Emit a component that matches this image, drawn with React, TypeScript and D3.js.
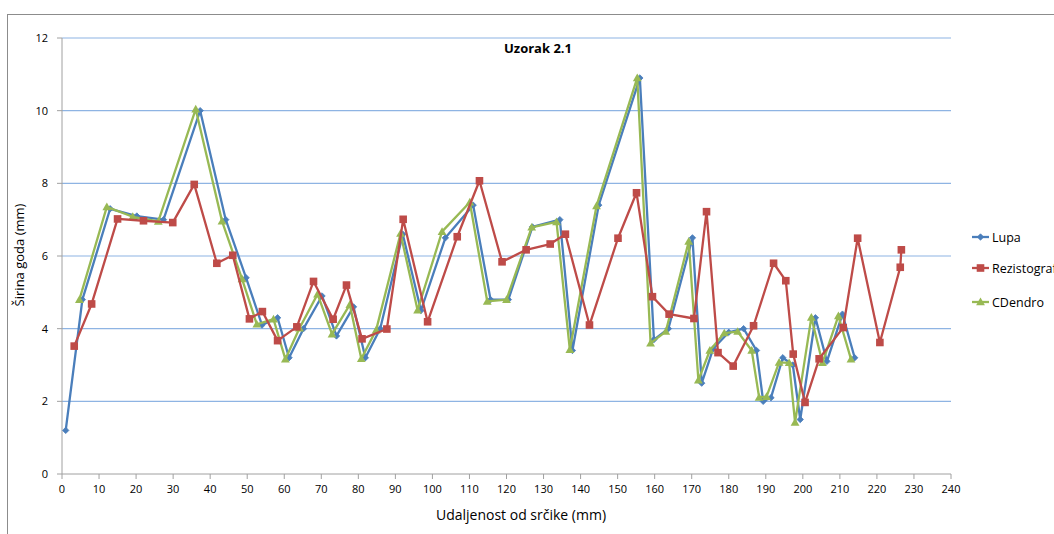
import React from "react";
import * as d3 from "d3";

const lupaX = [1, 5.5, 13, 20.2, 27.4, 37.3, 44.2, 49.7, 54.0, 58.2, 61.3, 65.2, 70.2, 74.1, 78.7, 81.9, 85.9, 92.0, 96.9, 103.5, 111.0, 115.7, 120.5, 127.0, 134.4, 137.8, 144.9, 156.0, 159.8, 163.7, 170.2, 172.7, 175.8, 180.0, 184.0, 187.5, 189.3, 191.4, 194.6, 197.3, 199.3, 203.4, 206.5, 210.7, 214.0];
const lupaY = [1.2, 4.8, 7.3, 7.1, 7.0, 10.0, 7.0, 5.4, 4.1, 4.3, 3.2, 4.0, 4.9, 3.8, 4.6, 3.2, 4.0, 6.6, 4.5, 6.5, 7.4, 4.8, 4.8, 6.8, 7.0, 3.4, 7.4, 10.9, 3.7, 4.0, 6.5, 2.5, 3.45, 3.9, 4.0, 3.4, 2.0, 2.1, 3.2, 3.0, 1.5, 4.3, 3.1, 4.4, 3.2];

const rezX = [3.3, 8.0, 15.0, 22.0, 29.9, 35.7, 41.8, 46.1, 50.6, 54.1, 58.2, 63.4, 67.9, 73.2, 76.8, 81.0, 87.7, 92.1, 98.7, 106.7, 112.7, 118.8, 125.3, 131.8, 135.9, 142.4, 150.1, 155.1, 159.4, 163.9, 170.6, 174.0, 177.1, 181.2, 186.7, 192.1, 195.4, 197.4, 200.6, 204.4, 210.9, 214.8, 220.8, 226.3, 226.6];
const rezY = [3.52, 4.68, 7.02, 6.97, 6.92, 7.97, 5.8, 6.02, 4.27, 4.47, 3.67, 4.05, 5.3, 4.26, 5.2, 3.72, 3.99, 7.01, 4.19, 6.53, 8.07, 5.84, 6.17, 6.33, 6.6, 4.1, 6.49, 7.74, 4.88, 4.4, 4.28, 7.22, 3.34, 2.97, 4.08, 5.8, 5.32, 3.3, 1.97, 3.17, 4.03, 6.49, 3.62, 5.69, 6.17];

const cdX = [4.7, 12.1, 19.1, 26.0, 36.1, 43.2, 48.6, 52.6, 57.1, 60.3, 64.1, 69.0, 72.9, 77.7, 80.8, 84.8, 91.4, 96.0, 102.6, 110.1, 114.8, 120.0, 126.8, 133.5, 137.1, 144.3, 155.3, 158.9, 163.0, 169.2, 171.8, 174.9, 178.8, 182.4, 186.2, 188.2, 190.2, 193.6, 196.3, 197.9, 202.3, 205.3, 209.6, 213.0];
const cdY = [4.8, 7.35, 7.08, 6.95, 10.04, 6.96, 5.37, 4.12, 4.26, 3.16, 4.01, 4.95, 3.85, 4.66, 3.17, 3.96, 6.62, 4.51, 6.67, 7.48, 4.75, 4.8, 6.79, 6.94, 3.42, 7.38, 10.9, 3.6, 3.92, 6.4, 2.58, 3.4, 3.88, 3.92, 3.4, 2.11, 2.13, 3.07, 3.06, 1.42, 4.31, 3.06, 4.35, 3.16];

const xTicks = d3.range(0, 241, 10);
const yTicks = [0, 2, 4, 6, 8, 10, 12];

const seriesNames = ["Lupa", "Rezistograf", "CDendro"];
const seriesColors = ["#4A7EBB", "#BE4B48", "#98B954"];

const FONT = "'Open Sans', 'Liberation Sans', sans-serif";

function Marker({ kind, x, y, color }: { kind: number; x: number; y: number; color: string }) {
  if (kind === 0) {
    const s = 3.2;
    return <path d={`M${x},${y - s}L${x + s},${y}L${x},${y + s}L${x - s},${y}Z`} fill={color} stroke={color} strokeWidth={0.8} />;
  }
  if (kind === 1) {
    return <rect x={x - 3.8} y={y - 3.8} width={7.6} height={7.6} fill={color} />;
  }
  const s = 4.4;
  return <path d={`M${x},${y - s}L${x + s},${y + s * 0.75}L${x - s},${y + s * 0.75}Z`} fill={color} />;
}

export default function App() {
  const x = d3.scaleLinear().domain([0, 240]).range([62, 951]);
  const y = d3.scaleLinear().domain([0, 12]).range([474, 38]);
  const data = [
    lupaX.map((v, i) => [v, lupaY[i]]),
    rezX.map((v, i) => [v, rezY[i]]),
    cdX.map((v, i) => [v, cdY[i]]),
  ];
  const line = d3.line<number[]>().x((d) => x(d[0])).y((d) => y(d[1]));
  const order = [0, 2, 1];
  const legendY = [237, 268, 302];

  return (
    <svg width={1054} height={534} style={{ position: "absolute", left: 0, top: 0, background: "#fff" }} fontFamily={FONT}>
      <rect x={7.5} y={14.5} width={1100} height={600} fill="#fff" stroke="#8c8c8c" strokeWidth={1} />
      {yTicks.filter((t) => t > 0).map((t) => (
        <line key={t} x1={62} x2={951} y1={y(t)} y2={y(t)} stroke="#8EB4E3" strokeWidth={1.2} />
      ))}
      <line x1={62} x2={62} y1={38} y2={474} stroke="#a0a0a0" strokeWidth={1} />
      <line x1={62} x2={951} y1={474} y2={474} stroke="#a0a0a0" strokeWidth={1} />
      {yTicks.map((t) => (
        <g key={t}>
          <line x1={57} x2={62} y1={y(t)} y2={y(t)} stroke="#a0a0a0" />
          <text x={48} y={y(t) + 4} fontSize={11} textAnchor="end" fill="#000">{t}</text>
        </g>
      ))}
      {xTicks.map((t) => (
        <g key={t}>
          <line x1={x(t)} x2={x(t)} y1={474} y2={479} stroke="#a0a0a0" />
          <text x={x(t)} y={493} fontSize={11} textAnchor="middle" fill="#000">{t}</text>
        </g>
      ))}
      <text x={521} y={520} fontSize={14} textAnchor="middle">Udaljenost od srčike (mm)</text>
      <text transform={`translate(24,255) rotate(-90)`} fontSize={13} textAnchor="middle">Širina goda (mm)</text>
      <text x={538} y={53} fontSize={13} fontWeight="bold" textAnchor="middle">Uzorak 2.1</text>
      {order.map((k) => (
        <g key={k}>
          <path d={line(data[k]) || ""} fill="none" stroke={seriesColors[k]} strokeWidth={2.3} strokeLinejoin="round" />
          {data[k].map((d, i) => (
            <Marker key={i} kind={k} x={x(d[0])} y={y(d[1])} color={seriesColors[k]} />
          ))}
        </g>
      ))}
      {seriesNames.map((n, k) => (
        <g key={n}>
          <line x1={972} x2={989} y1={legendY[k]} y2={legendY[k]} stroke={seriesColors[k]} strokeWidth={2.3} />
          <Marker kind={k} x={980.5} y={legendY[k]} color={seriesColors[k]} />
          <text x={992} y={legendY[k] + 4.5} fontSize={12.5}>{n}</text>
        </g>
      ))}
    </svg>
  );
}
